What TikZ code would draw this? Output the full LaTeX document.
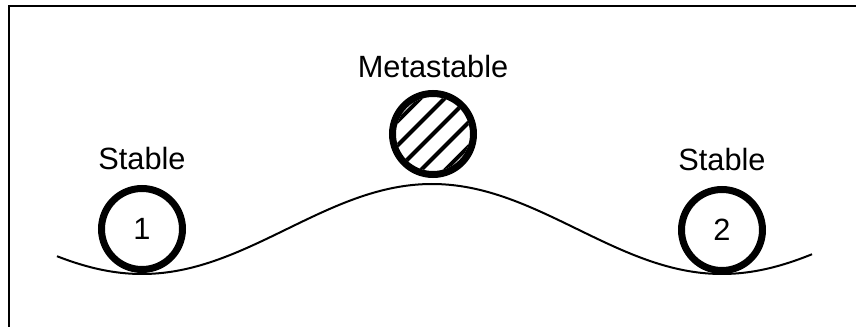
\documentclass[tikz,border=0pt]{standalone}
\usepackage{fontspec}
\setmainfont{Liberation Sans}
\usetikzlibrary{positioning,calc}

\begin{document}
\begin{tikzpicture}[
    x=0.02cm, y=-0.02cm,
    ball/.style={circle, draw, line width=7*0.02cm, minimum size=81*0.02cm, inner sep=0pt, font=\fontsize{17.5}{20}\selectfont},
    lbl/.style={font=\fontsize{17.5}{20}\selectfont, inner sep=0pt},
    hatch/.style={line width=4*0.02cm}
]
\useasboundingbox (0,0) rectangle (856,327);
\clip (0,0) rectangle (856,327);
\draw[line width=2*0.02cm] (8.5,340) -- (8.5,6.5) -- (870,6.5);

% ground
\draw[line width=2*0.02cm, domain=57:812, samples=120, smooth] plot (\x, {229+45*cos((\x-142)*0.62069)});

% balls
\node[ball] (left) at (142,229) {1};
\node[ball] (right) at (722,230) {2};
\node[ball] (top) at (433,134) {};
\begin{scope}
  \clip (top) circle (37);
  \foreach \d in {-34,-17,0,17,34}
    \draw[hatch] ($(top)+(-60,60)+(\d*0.7071,\d*0.7071)$) -- ++(120,-120);
\end{scope}

% labels
\node[lbl, above=15*0.02cm of left] (lstable) {Stable};
\node[lbl, above=15*0.02cm of right] (rstable) {Stable};
\node[lbl, above=12*0.02cm of top] (meta) {Metastable};
\end{tikzpicture}
\end{document}
